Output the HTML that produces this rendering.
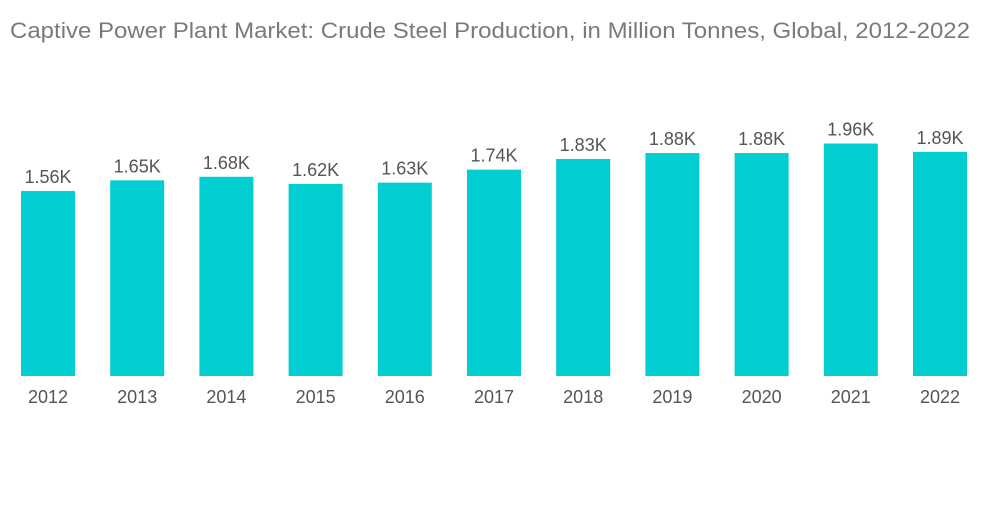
<!DOCTYPE html>
<html><head><meta charset="utf-8"><style>
body{margin:0;background:#fff;width:1000px;height:504px;overflow:hidden;font-family:"Liberation Sans",sans-serif}
</style></head><body>
<svg width="1000" height="504">
<text x="10" y="38" font-size="22" fill="#7a7a7a" textLength="960" lengthAdjust="spacingAndGlyphs">Captive Power Plant Market: Crude Steel Production, in Million Tonnes, Global, 2012-2022</text>
<g id="bars"></g>
</svg>
<script>
const categories=["2012","2013","2014","2015","2016","2017","2018","2019","2020","2021","2022"];
const values=[1.56,1.65,1.68,1.62,1.63,1.74,1.83,1.88,1.88,1.96,1.89];
const valueLabels=["1.56K","1.65K","1.68K","1.62K","1.63K","1.74K","1.83K","1.88K","1.88K","1.96K","1.89K"];
const base=376, scale=118.6, x0=21, step=89.2, bw=54;
const y=v=>base-v*scale, x=i=>x0+i*step;
const g=document.getElementById('bars'), ns="http://www.w3.org/2000/svg";
categories.forEach((c,i)=>{
  const r=document.createElementNS(ns,'rect');
  r.setAttribute('x',x(i));r.setAttribute('y',y(values[i]));
  r.setAttribute('width',bw);r.setAttribute('height',base-y(values[i]));
  r.setAttribute('fill','#00ced1');
  
  
  g.appendChild(r);
  const t=document.createElementNS(ns,'text');
  t.setAttribute('x',x(i)+bw/2);t.setAttribute('y',y(values[i])-8);
  t.setAttribute('text-anchor','middle');t.setAttribute('font-size','18');t.setAttribute('fill','#555');
  t.textContent=valueLabels[i];
  
  
  g.appendChild(t);
  const l=document.createElementNS(ns,'text');
  l.setAttribute('x',x(i)+bw/2);l.setAttribute('y',403);
  l.setAttribute('text-anchor','middle');l.setAttribute('font-size','18');l.setAttribute('fill','#555');
  l.textContent=c;
  
  
  g.appendChild(l);
});
</script>
</body></html>
